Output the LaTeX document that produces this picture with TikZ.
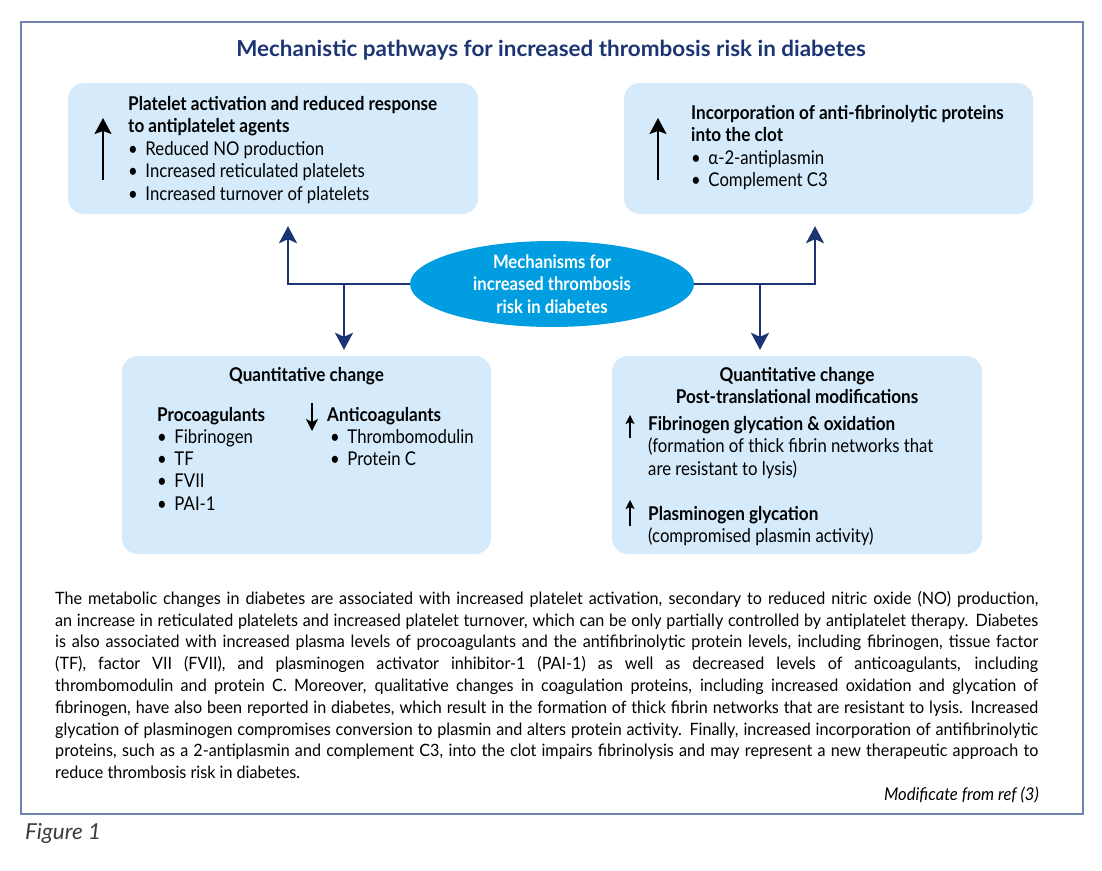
\documentclass[tikz,border=0pt]{standalone}
\usepackage{fontspec}
\setmainfont[FakeStretch=0.95]{Lato}
\newfontfamily\boxfont[FakeStretch=0.88]{Lato}
\newfontfamily\boxbold[FakeStretch=0.9]{Lato}
\newfontfamily\headfont[FakeStretch=1.02]{Lato}
\usetikzlibrary{arrows.meta,shapes.geometric}
\definecolor{navy}{RGB}{28,52,115}
\definecolor{boxblue}{RGB}{213,234,250}
\definecolor{ellblue}{RGB}{0,158,224}
\definecolor{framegray}{RGB}{112,132,178}
\definecolor{figgray}{RGB}{60,60,60}

\begin{document}
\begin{tikzpicture}
  [x=1pt,y=-1pt,
   panel/.style={fill=boxblue,rounded corners=16pt,inner sep=0pt},
   txt/.style={anchor=base west,inner sep=0pt,font=\boxfont\fontsize{19}{22.5}\selectfont},
   hd/.style={txt,font=\boxbold\bfseries\fontsize{19}{22.5}\selectfont},
   flow/.style={navy,line width=2.3pt,-{Stealth[length=17pt,width=18pt,inset=4pt]}},
   rise/.style={black,line width=1.8pt,-{Stealth[length=16pt,width=17pt,inset=3pt]}},
   risesmall/.style={black,line width=1.3pt,-{Stealth[length=9pt,width=9pt,inset=2pt]}}]

%frame and page size
  \useasboundingbox (0,0) rectangle (1102,870);
  \draw[framegray,line width=2pt] (21,22) rectangle (1083,814);

  \node[anchor=base,navy,inner sep=0pt,font=\headfont\bfseries\fontsize{22}{26}\selectfont] (title) at (551,56)
   {Mechanistic pathways for increased thrombosis risk in diabetes};

%the four panels and the centre
  \node[panel,minimum width=410pt,minimum height=131pt] (plat) at (273,148.5) {};
  \node[panel,minimum width=409pt,minimum height=131pt] (clot) at (828.5,148.5) {};
  \node[panel,minimum width=369pt,minimum height=198pt] (quant) at (306.5,455) {};
  \node[panel,minimum width=370pt,minimum height=198pt] (post) at (797,455) {};

  \node[ellipse,fill=ellblue,text=white,minimum width=284pt,minimum height=86pt,inner sep=0pt,align=center,
   font=\boxbold\bfseries\fontsize{18.5}{22.5}\selectfont] (mech) at (552,284)
   {Mechanisms for\\increased thrombosis\\risk in diabetes};

%connectors
  \coordinate (jl) at (344,284);
  \coordinate (jr) at (760,284);
  \draw[flow,shorten >=12pt] (mech.west) -| ([xshift=15pt]plat.south);
  \draw[flow,shorten >=12pt] (mech.east) -| ([xshift=-13.5pt]clot.south);
  \draw[flow,shorten >=6pt] (jl) -- (jl |- quant.north);
  \draw[flow,shorten >=6pt] (jr) -- (jr |- post.north);

%platelet panel
  \draw[rise] (103,180) -- (103,118);
  \node[hd] (plat1) at (128,110) {Platelet activation and reduced response};
  \node[hd] (plat2) at (128,132.5) {to antiplatelet agents};
  \foreach \t [count=\i] in {Reduced NO production,Increased reticulated platelets,Increased turnover of platelets}
   \node[txt] (platb\i) at (128,{132.5+22.5*\i}) {\textbullet\hspace{0.4em}\t};

%clot panel
  \draw[rise] (658,180) -- (658,118);
  \node[hd] (clot1) at (691,119) {Incorporation of anti-fibrinolytic proteins};
  \node[hd] (clot2) at (691,141.5) {into the clot};
  \foreach \t [count=\i] in {α-2-antiplasmin,Complement C3}
   \node[txt] (clotb\i) at (691,{141.5+22.5*\i}) {\textbullet\hspace{0.4em}\t};

%quantitative panel
  \node[hd,anchor=base] (quant1) at (306.5,381) {Quantitative change};
  \node[hd] (pro) at (157,421) {Procoagulants};
  \foreach \t [count=\i] in {Fibrinogen,TF,FVII,PAI-1}
   \node[txt] (prob\i) at (157,{421+22.3*\i}) {\textbullet\hspace{0.4em}\t};
  \draw[rise,line width=1.5pt,-{Stealth[length=12pt,width=12pt,inset=3pt]}] (312,403) -- (312,431);
  \node[hd] (anti) at (327,421) {Anticoagulants};
  \foreach \t [count=\i] in {Thrombomodulin,Protein C}
   \node[txt] (antib\i) at (330,{421+22.3*\i}) {\textbullet\hspace{0.4em}\t};

%post-translational panel
  \node[hd,anchor=base] (post1) at (797,381) {Quantitative change};
  \node[hd,anchor=base] (post2) at (797,403) {Post-translational modifications};
  \draw[risesmall] (630,438) -- (630,415);
  \node[hd] (fib) at (648,430) {Fibrinogen glycation \& oxidation};
  \node[txt] (fib1) at (648,452.5) {(formation of thick fibrin networks that};
  \node[txt] (fib2) at (648,475) {are resistant to lysis)};
  \draw[risesmall] (630,526) -- (630,500);
  \node[hd] (plg) at (648,520) {Plasminogen glycation};
  \node[txt] (plg1) at (648,542.5) {(compromised plasmin activity)};

%caption text
  \node[anchor=north west,inner sep=0pt,text width=983pt,align=justify,font=\fontsize{17}{21.8}\selectfont] (body) at (55,591)
   {The metabolic changes in diabetes are associated with increased platelet activation, secondary to reduced nitric oxide (NO) production,\linebreak
    an increase in reticulated platelets and increased platelet turnover, which can be only partially controlled by antiplatelet therapy. Diabetes\linebreak
    is also associated with increased plasma levels of procoagulants and the antifibrinolytic protein levels, including fibrinogen, tissue factor\linebreak
    (TF), factor VII (FVII), and plasminogen activator inhibitor-1 (PAI-1) as well as decreased levels of anticoagulants, including\linebreak
    thrombomodulin and protein C. Moreover, qualitative changes in coagulation proteins, including increased oxidation and glycation of\linebreak
    fibrinogen, have also been reported in diabetes, which result in the formation of thick fibrin networks that are resistant to lysis. Increased\linebreak
    glycation of plasminogen compromises conversion to plasmin and alters protein activity. Finally, increased incorporation of antifibrinolytic\linebreak
    proteins, such as a 2-antiplasmin and complement C3, into the clot impairs fibrinolysis and may represent a new therapeutic approach to\linebreak
    reduce thrombosis risk in diabetes.};
  \node[anchor=base east,inner sep=0pt,font=\itshape\fontsize{17.5}{20}\selectfont] (src) at (1039,800) {Modificate from ref (3)};
  \node[anchor=base west,inner sep=0pt,text=figgray,font=\headfont\itshape\fontsize{22}{26}\selectfont] (fig) at (25,839) {Figure 1};

\end{tikzpicture}
\end{document}
